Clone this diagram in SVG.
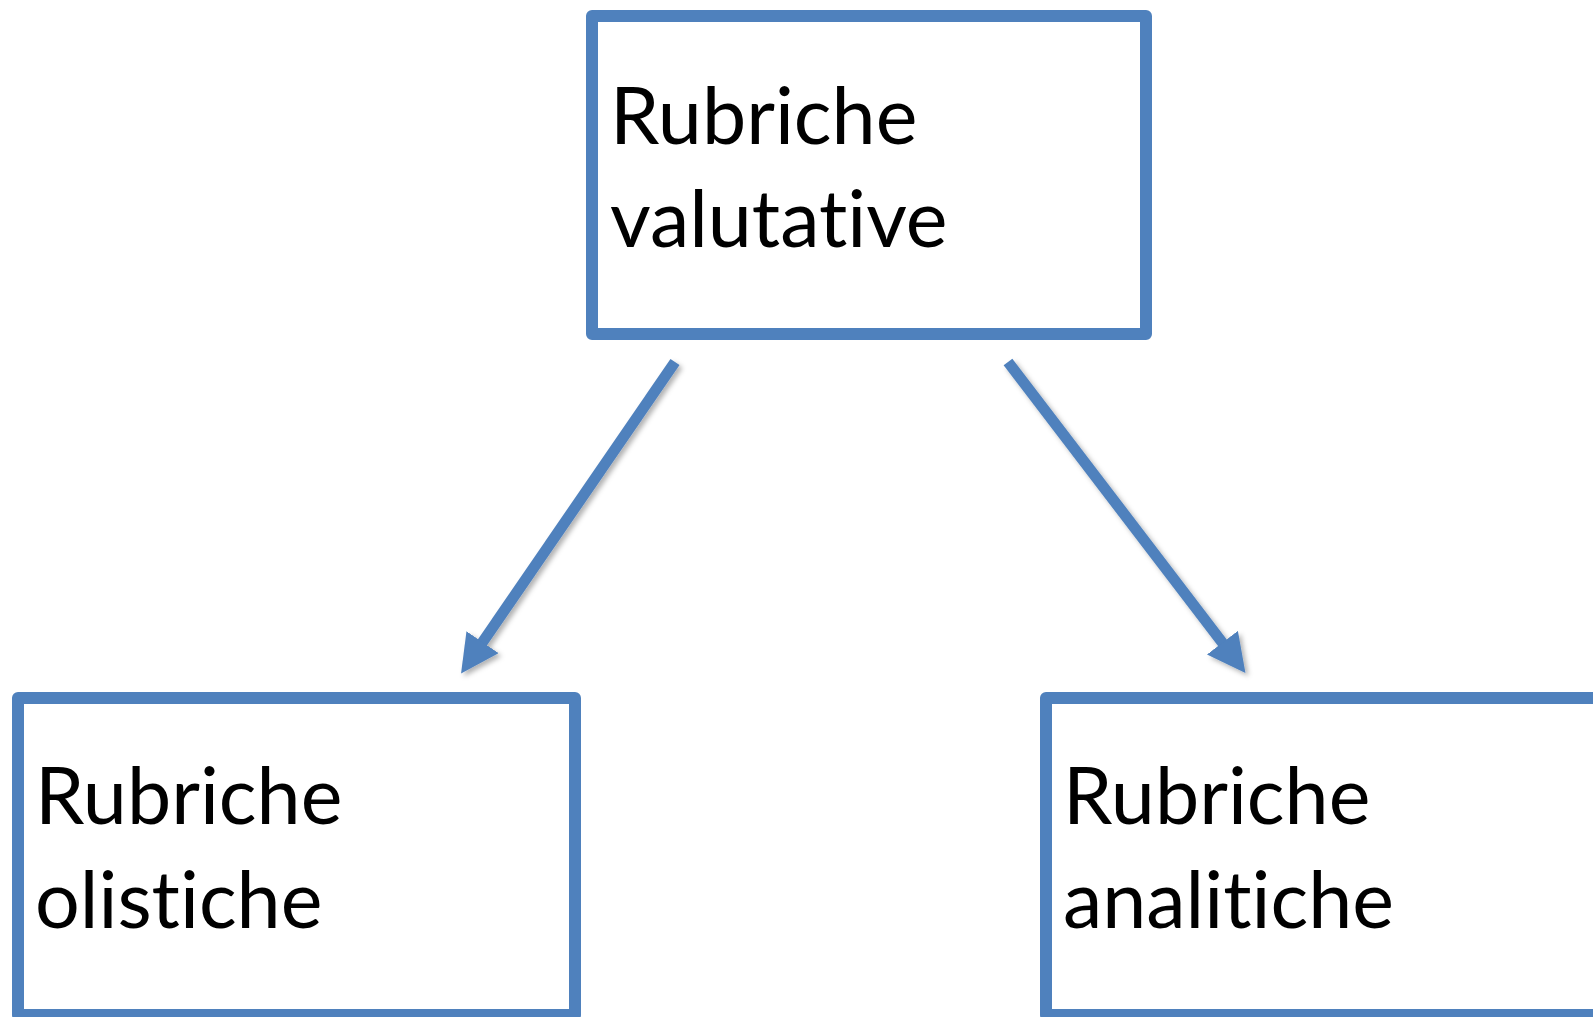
<svg xmlns="http://www.w3.org/2000/svg" width="1593" height="1017" viewBox="0 0 1593 1017">
  <style>
    .box { fill: #ffffff; stroke: #4F81BD; stroke-width: 12; stroke-linejoin: round; }
    .label { font-family: Lato, "Open Sans", "Liberation Sans", sans-serif; font-size: 79px; fill: #000000; font-variant-ligatures: none; font-feature-settings: "liga" 0; }
    .link { stroke: #4F81BD; stroke-width: 11; fill: none; marker-end: url(#head); }
  </style>
  <defs>
    <marker id="head" markerUnits="userSpaceOnUse" viewBox="0 0 38 39" markerWidth="38" markerHeight="39" refX="1" refY="19.5" orient="auto">
      <path d="M0,0 L38,19.5 L0,39 Z" fill="#4F81BD"/>
    </marker>
    <filter id="shadow" x="-20%" y="-20%" width="140%" height="140%">
      <feDropShadow dx="3" dy="3" stdDeviation="2.5" flood-color="#000000" flood-opacity="0.3"/>
    </filter>
  </defs>
  <rect width="1593" height="1017" fill="#ffffff"/>

  <g id="connectors" filter="url(#shadow)">
    <line class="link" x1="675" y1="362" x2="482" y2="643"/>
    <line class="link" x1="1008" y1="362" x2="1223" y2="643.5"/>
  </g>

  <g id="node-valutative">
    <rect class="box" x="592" y="16" width="554" height="318"/>
    <text class="label" x="610" y="144">Rubriche</text>
    <text class="label" x="610" y="247">valutative</text>
  </g>

  <g id="node-olistiche">
    <rect class="box" x="18" y="698" width="557" height="317"/>
    <text class="label" x="35" y="824">Rubriche</text>
    <text class="label" x="35" y="928">olistiche</text>
  </g>

  <g id="node-analitiche">
    <rect class="box" x="1046" y="698" width="600" height="317"/>
    <text class="label" x="1063" y="824">Rubriche</text>
    <text class="label" x="1063" y="928">analitiche</text>
  </g>
</svg>
